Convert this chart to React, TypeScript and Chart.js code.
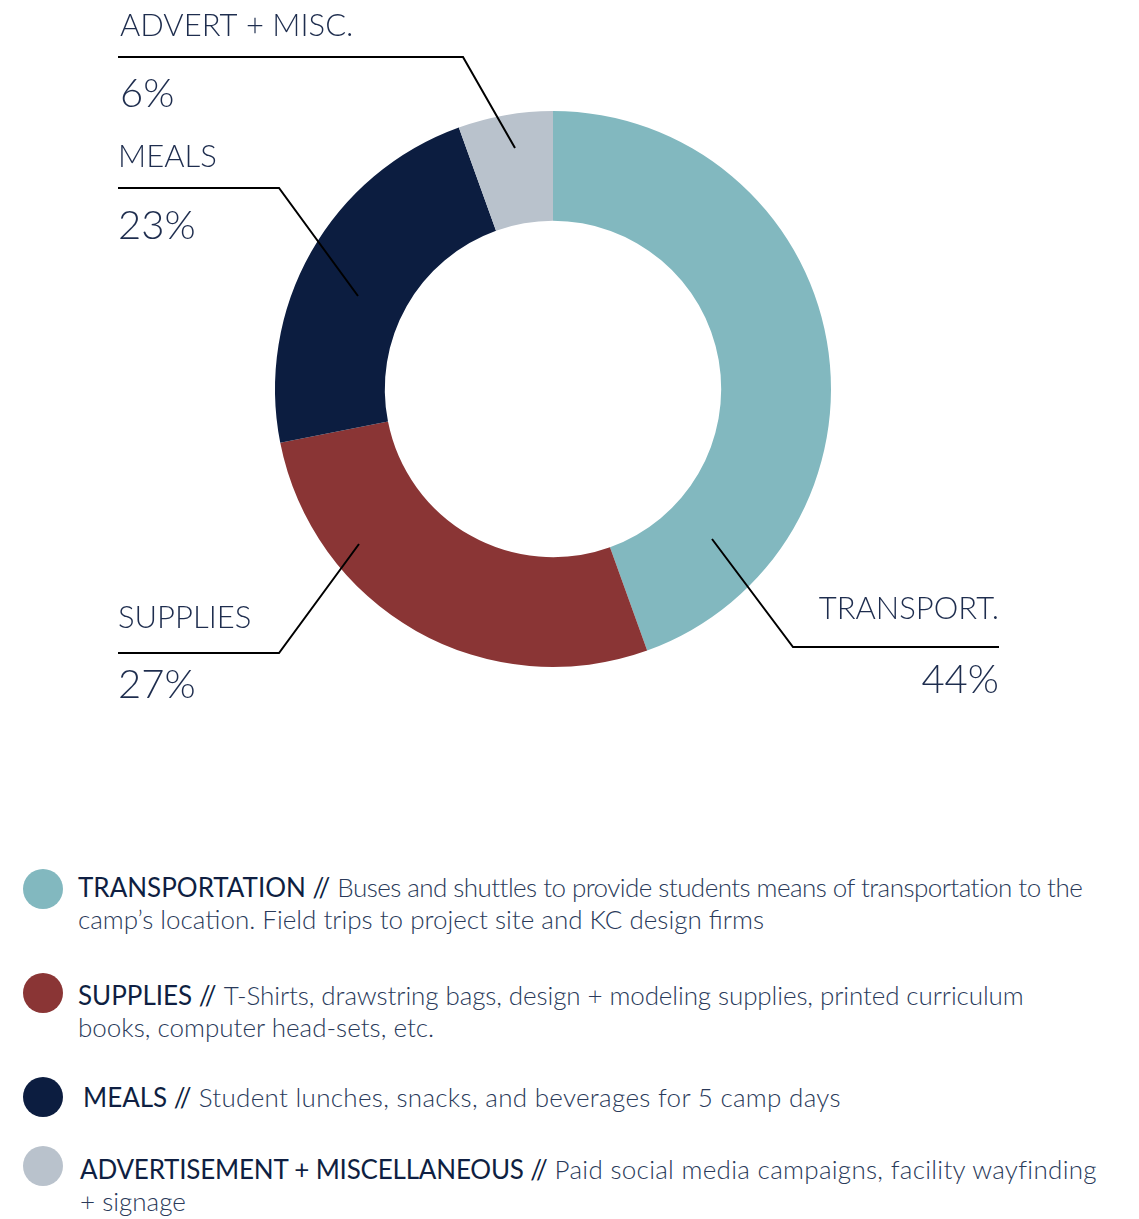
import React, { useEffect, useRef } from "react";
import { Chart, registerables } from "chart.js";

Chart.register(...registerables);

// ---- data ----
const categories = ["TRANSPORT.", "SUPPLIES", "MEALS", "ADVERT + MISC."];
const shares = [44.5, 27.4, 22.6, 5.5];
const percentLabels = ["44%", "27%", "23%", "6%"];
const colors = ["#82b8bf", "#8a3535", "#0c1d40", "#b9c2cc"];

const legendTitles = ["TRANSPORTATION", "SUPPLIES", "MEALS", "ADVERTISEMENT + MISCELLANEOUS"];
const legendFirstLines = [
  "Buses and shuttles to provide students means of transportation to the",
  "T-Shirts, drawstring bags, design + modeling supplies, printed curriculum",
  "Student lunches, snacks, and beverages for 5 camp days",
  "Paid social media campaigns, facility wayfinding",
];
const legendSecondLines = [
  "camp’s location. Field trips to project site and KC design firms",
  "books, computer head-sets, etc.",
  "",
  "+ signage",
];

const TEXT_COLOR = "#1e2d4e";
const FONT = "Lato, 'Open Sans', sans-serif";

// leader line layout relative to the doughnut centre
const leaderLayout = [
  { end: [159, 150], elbow: [240, 258], lineTo: 446, align: "right", textX: 446, labelY: 230, pctY: 304 },
  { end: [-194, 155], elbow: [-274, 264], lineTo: -435, align: "left", textX: -435, labelY: 239, pctY: 309 },
  { end: [-195, -93], elbow: [-274, -201], lineTo: -435, align: "left", textX: -435, labelY: -222, pctY: -150 },
  { end: [-38, -241], elbow: [-90, -332], lineTo: -435, align: "left", textX: -433, labelY: -353, pctY: -282 },
];

const leaderPlugin = {
  id: "leaderLabels",
  afterDraw(chart: any) {
    const meta = chart.getDatasetMeta(0);
    const arc = meta.data[0];
    if (!arc) return;
    const cx = arc.x;
    const cy = arc.y;
    const ctx = chart.ctx;
    ctx.save();
    leaderLayout.forEach((l, i) => {
      ctx.beginPath();
      ctx.strokeStyle = "#000";
      ctx.lineWidth = 2;
      ctx.moveTo(cx + l.end[0], cy + l.end[1]);
      ctx.lineTo(cx + l.elbow[0], cy + l.elbow[1]);
      ctx.lineTo(cx + l.lineTo, cy + l.elbow[1]);
      ctx.stroke();
      ctx.fillStyle = TEXT_COLOR;
      ctx.textAlign = l.align as CanvasTextAlign;
      ctx.textBaseline = "alphabetic";
      ctx.font = `300 31px ${FONT}`;
      ctx.fillText(categories[i], cx + l.textX, cy + l.labelY);
      ctx.font = `300 40px ${FONT}`;
      ctx.fillText(percentLabels[i], cx + l.textX, cy + l.pctY);
    });
    ctx.restore();
  },
};

function DoughnutCanvas() {
  const ref = useRef<HTMLCanvasElement | null>(null);
  useEffect(() => {
    if (!ref.current) return;
    const chart = new Chart(ref.current, {
      type: "doughnut",
      data: {
        labels: categories,
        datasets: [
          {
            data: shares,
            backgroundColor: colors,
            borderWidth: 0,
          },
        ],
      },
      options: {
        responsive: false,
        animation: false,
        cutout: "60.5%",
        layout: { padding: { left: 275, right: 308, top: 111, bottom: 113 } },
        plugins: { legend: { display: false }, tooltip: { enabled: false } },
      },
      plugins: [leaderPlugin],
    });
    return () => chart.destroy();
  }, []);
  return <canvas ref={ref} width={1139} height={780} style={{ position: "absolute", left: 0, top: 0 }} />;
}

const legendTops = [871, 979, 1081, 1153];
const legendLefts = [78, 78, 83, 80];
const legendSpacing = [-0.55, -0.1, 0.3, 0.3];
const circleCenters = [889, 993, 1097, 1166];

export default function App() {
  return (
    <div style={{ position: "absolute", left: 0, top: 0, width: 1139, height: 1219, background: "#fff", overflow: "hidden" }}>
      <DoughnutCanvas />
      {legendTitles.map((t, i) => (
        <React.Fragment key={t}>
          <div
            style={{
              position: "absolute",
              left: 23,
              top: circleCenters[i] - 20,
              width: 40,
              height: 40,
              borderRadius: "50%",
              background: colors[i],
            }}
          />
          <div
            style={{
              position: "absolute",
              left: legendLefts[i],
              top: legendTops[i],
              fontFamily: FONT,
              fontSize: 26,
              lineHeight: "32px",
              color: "#2a3a5a",
              fontWeight: 300,
              whiteSpace: "nowrap",
            }}
          >
            <div>
              <span style={{ fontWeight: 400, color: "#0f1f42", letterSpacing: i === 3 ? -0.2 : 0 }}>{t} //</span>{" "}
              <span style={{ letterSpacing: legendSpacing[i] }}>{legendFirstLines[i]}</span>
            </div>
            {legendSecondLines[i] ? <div>{legendSecondLines[i]}</div> : null}
          </div>
        </React.Fragment>
      ))}
    </div>
  );
}
